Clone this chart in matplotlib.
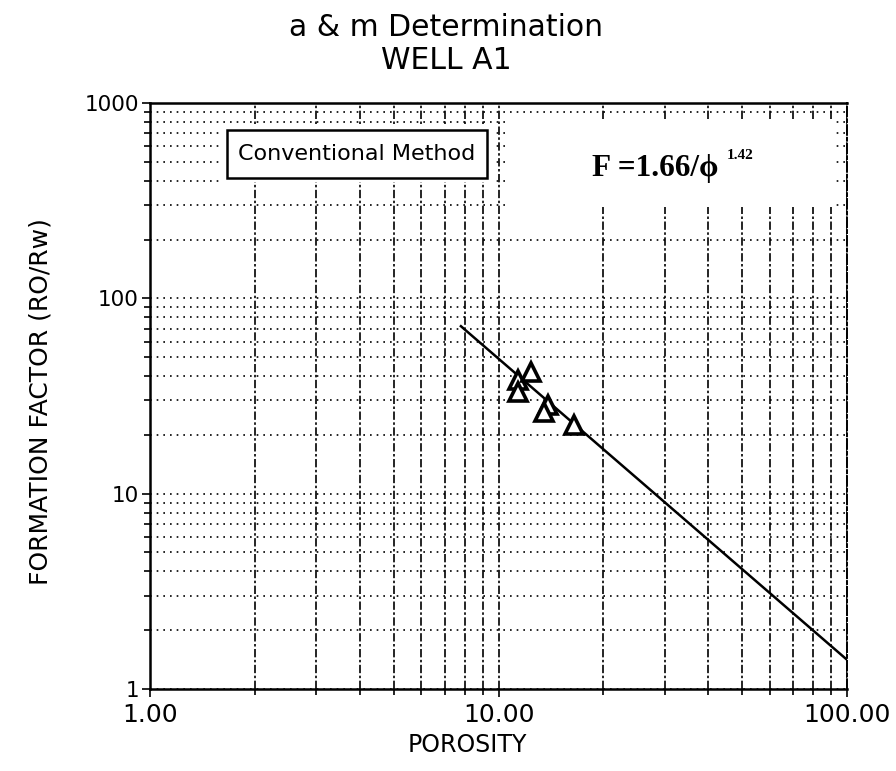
import numpy as np
import matplotlib.pyplot as plt
from matplotlib.patches import Rectangle
from matplotlib.ticker import FixedLocator, FixedFormatter, LogLocator, NullFormatter

plt.rcParams['font.family'] = ['DejaVu Sans']

# measured points (porosity %, formation factor)
phi = [11.4, 11.4, 12.4, 13.9, 13.5, 16.5]
ff = [38.2, 33.2, 42.0, 28.5, 26.2, 22.5]

# fitted line end points
fit_phi = [7.8, 100.0]
fit_ff = [72.0, 1.41]

x_ticks = [1, 10, 100]
x_labels = ['1.00', '10.00', '100.00']
y_ticks = [1, 10, 100, 1000]
y_labels = ['1', '10', '100', '1000']

fig = plt.figure(figsize=(8.96, 7.71), dpi=100)
ax = fig.add_axes([0.1674, 0.1064, 0.778, 0.760])
ax.set_xscale('log')
ax.set_yscale('log')
ax.set_xlim(1, 100)
ax.set_ylim(1, 1000)

ax.xaxis.set_major_locator(FixedLocator(x_ticks))
ax.xaxis.set_major_formatter(FixedFormatter(x_labels))
ax.yaxis.set_major_locator(FixedLocator(y_ticks))
ax.yaxis.set_major_formatter(FixedFormatter(y_labels))
ax.xaxis.set_minor_locator(LogLocator(base=10, subs=np.arange(2, 10)))
ax.yaxis.set_minor_locator(LogLocator(base=10, subs=np.arange(2, 10)))
ax.xaxis.set_minor_formatter(NullFormatter())
ax.yaxis.set_minor_formatter(NullFormatter())

ax.grid(which='both', axis='x', color='black', lw=1.2, linestyle=(0, (5, 1.5, 1.5, 1.5)))
ax.grid(which='both', axis='y', color='black', lw=1.2, linestyle=(0, (1, 3)))
ax.tick_params(which='both', direction='out', width=1.2)
ax.tick_params(axis='x', labelsize=18, pad=4)
ax.tick_params(axis='y', labelsize=15.5, pad=2)
ax.tick_params(which='major', length=6)
ax.tick_params(which='minor', length=4)
for s in ['left', 'bottom', 'top']:
    ax.spines[s].set_linewidth(1.8)
ax.spines['right'].set_linestyle((0, (5, 1.5, 1.5, 1.5)))
ax.spines['right'].set_linewidth(1.4)

ax.plot(fit_phi, fit_ff, color='black', lw=1.8)
ax.plot(phi, ff, linestyle='none', marker='^', markersize=13,
        markerfacecolor='white', markeredgecolor='black', markeredgewidth=2.6)

# label box
ax.add_patch(Rectangle((0.1033, 0.865), 0.3874, 0.099, transform=ax.transAxes,
                       facecolor='white', edgecolor='none', zorder=3))
ax.add_patch(Rectangle((0.1105, 0.872), 0.373, 0.082, transform=ax.transAxes,
                       facecolor='white', edgecolor='black', lw=1.8, zorder=4))
ax.text(0.297, 0.913, 'Conventional Method', transform=ax.transAxes, fontsize=16,
        ha='center', va='center', zorder=5)

# equation
ax.add_patch(Rectangle((0.509, 0.823), 0.474, 0.148, transform=ax.transAxes,
                       facecolor='white', edgecolor='none', zorder=3))
ax.text(0.634, 0.889, 'F =1.66/\u03d5', transform=ax.transAxes, fontsize=22.5,
        fontweight='bold', family=['Liberation Serif', 'DejaVu Serif'],
        ha='left', va='center', zorder=5)
ax.text(0.828, 0.910, '1.42', transform=ax.transAxes, fontsize=11,
        fontweight='bold', family=['Liberation Serif', 'DejaVu Serif'],
        ha='left', va='center', zorder=5)

ax.set_xlabel('POROSITY', fontsize=17)
ax.set_ylabel('FORMATION FACTOR (RO/Rw)', fontsize=18)
ax.xaxis.set_label_coords(0.455, -0.075)
ax.yaxis.set_label_coords(-0.14, 0.49)
fig.text(0.498, 0.9637, 'a & m Determination', ha='center', va='center', fontsize=21.5)
fig.text(0.498, 0.921, 'WELL A1', ha='center', va='center', fontsize=21.5)

fig.savefig('out.png', dpi=100)
